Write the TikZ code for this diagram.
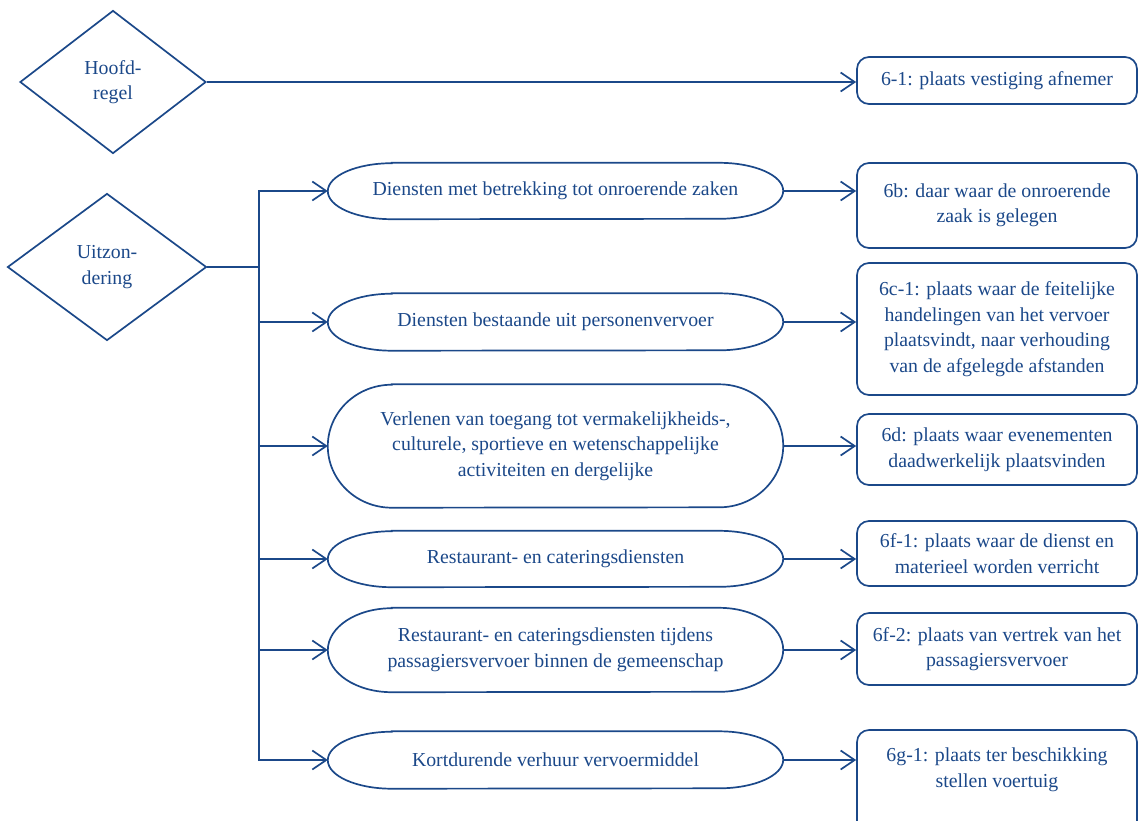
\documentclass[tikz,border=0pt]{standalone}
\usepackage{fontspec}
\setmainfont{Liberation Serif}
\usetikzlibrary{arrows.meta,shapes.geometric,calc}
\definecolor{dblue}{RGB}{27,72,137}
\tikzset{
  ln/.style={draw=dblue, line width=1.7pt},
  arr/.style={ln, -{Straight Barb[length=14pt,width=19pt,line width=1.7pt]}},
  txt/.style={text=dblue, font=\fontsize{19.8}{25.5}\selectfont, align=center},
  stxt/.style={txt, minimum width=455pt, inner sep=0pt},
  rbox/.style={ln, txt, rounded corners=12pt, minimum width=280pt, inner sep=0pt},
  dia/.style={ln, txt, diamond, inner sep=0pt},
}
\newcommand\mkstad[4]{%
  \node[stxt, minimum height=#3] (#1) at (555.5,#2) {#4};
  \draw[ln] ([xshift=64pt]#1.north west) -- ([xshift=-64pt]#1.north east)
     arc[start angle=90,end angle=-90,x radius=64pt,y radius=#3*0.5pt]
     -- ([xshift=64pt]#1.south west)
     arc[start angle=270,end angle=90,x radius=64pt,y radius=#3*0.5pt] -- cycle;}
\begin{document}
\begin{tikzpicture}[x=1pt,y=-1pt]
\useasboundingbox (0,0) rectangle (1139,820);
% diamonds
\node[dia, minimum width=186pt, minimum height=143pt] (d1) at (113,82) {Hoofd-\\regel};
\node[dia, minimum width=199pt, minimum height=147pt] (d2) at (107,267) {Uitzon-\\dering};
% stadiums
\mkstad{s1}{191}{56}{Diensten met betrekking tot onroerende zaken}
\mkstad{s2}{322}{57}{Diensten bestaande uit personenvervoer}
\mkstad{s3}{446}{123}{Verlenen van toegang tot vermakelijkheids-,\\culturele, sportieve en wetenschappelijke\\activiteiten en dergelijke}
\mkstad{s4}{559}{56}{Restaurant- en cateringsdiensten}
\mkstad{s5}{650}{84}{Restaurant- en cateringsdiensten tijdens\\passagiersvervoer binnen de gemeenschap}
\mkstad{s6}{760}{57}{Kortdurende verhuur vervoermiddel}
% right boxes
\node[rbox, minimum height=47pt] (b0) at (997,80.5) {6-1: plaats vestiging afnemer};
\node[rbox, minimum height=85pt] (b1) at (997,205.5) {6b: daar waar de onroerende\\zaak is gelegen};
\node[rbox, minimum height=132pt] (b2) at (997,329) {6c-1: plaats waar de feitelijke\\handelingen van het vervoer\\plaatsvindt, naar verhouding\\van de afgelegde afstanden};
\node[rbox, minimum height=71pt] (b3) at (997,449.5) {6d: plaats waar evenementen\\daadwerkelijk plaatsvinden};
\node[rbox, minimum height=65pt] (b4) at (997,553.5) {6f-1: plaats waar de dienst en\\materieel worden verricht};
\node[rbox, minimum height=72pt] (b5) at (997,649) {6f-2: plaats van vertrek van het\\passagiersvervoer};
\node[rbox, minimum height=120pt] (b6) at (997,790) {};
\node[txt] (b6t) at (997,770) {6g-1: plaats ter beschikking\\stellen voertuig};
% connectors
\draw[arr] (d1.east) -- (d1.east -| b0.west);
\coordinate (tr) at (259,267);
\draw[ln] (d2.east) -- (tr);
\foreach \s in {s1,s2,s3,s4,s5,s6}{\draw[arr] (tr) |- (\s.west);}
\draw[arr] (s1.east) -- (s1.east -| b1.west);
\draw[arr] (s2.east) -- (s2.east -| b2.west);
\draw[arr] (s3.east) -- (s3.east -| b3.west);
\draw[arr] (s4.east) -- (s4.east -| b4.west);
\draw[arr] (s5.east) -- (s5.east -| b5.west);
\draw[arr] (s6.east) -- (s6.east -| b6.west);
\end{tikzpicture}
\end{document}
